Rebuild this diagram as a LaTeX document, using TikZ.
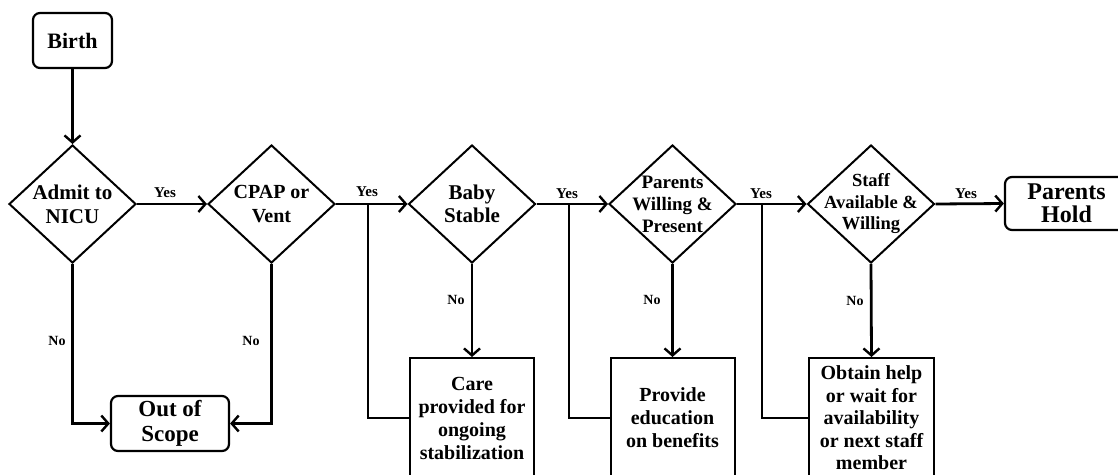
\documentclass[tikz,border=0pt]{standalone}
\usepackage{fontspec}
\setmainfont{Liberation Serif}
\usetikzlibrary{shapes.geometric,arrows.meta}
\newcommand{\fsz}[2]{\fontsize{#1}{#2}\selectfont\bfseries}
\begin{document}
\begin{tikzpicture}[x=1pt,y=-1pt,
  conn/.style={line width=2.8pt},
  arr/.style={conn,-{Straight Barb[length=7pt,width=16pt,line width=2.4pt]}},
  decision/.style={diamond,draw,line width=2pt,minimum width=127pt,minimum height=118pt,inner sep=0pt},
  dectext/.style={align=center,inner sep=0pt},
  endbox/.style={rectangle,rounded corners=7pt,draw,line width=2.2pt,align=center,inner sep=0pt},
  actbox/.style={rectangle,draw,line width=2pt,align=center,inner sep=0pt,minimum width=124pt,minimum height=120pt},
  yes/.style={inner sep=0pt,font=\fsz{15}{17}},
  no/.style={inner sep=0pt,font=\fsz{14}{16}}]
\useasboundingbox (0,0) rectangle (1118,474);
\clip (0,0) rectangle (1118,474);
\fill[white] (0,0) rectangle (1118,474);

\node[endbox,minimum width=79pt,minimum height=55pt,font=\fsz{22}{25}] (birth) at (72.5,40.5) {Birth};
\node[decision,label={[dectext,font=\fsz{21}{24}]center:{Admit to\\NICU}}] (admit) at (72.5,204) {};
\node[decision,label={[dectext,font=\fsz{20}{24}]center:{CPAP or\\Vent}}] (cpap) at (271.5,204) {};
\node[decision,label={[dectext,font=\fsz{21}{23}]center:{Baby\\Stable}}] (baby) at (472,204) {};
\node[decision,label={[dectext,font=\fsz{19}{22}]center:{Parents\\Willing \&\\Present}}] (parents) at (672.5,204) {};
\node[decision,label={[dectext,font=\fsz{18.5}{21.5}]center:{Staff\\Available \&\\Willing}}] (staff) at (871,204) {};
\node[endbox,minimum width=123pt,minimum height=53pt,font=\fsz{24}{23}] (hold) at (1066.5,203.5) {Parents\\Hold};
\node[endbox,minimum width=118pt,minimum height=55pt,font=\fsz{23}{25}] (oos) at (170,423.5) {Out of\\Scope};
\node[actbox,font=\fsz{20}{23}] (care) at (472,418) {Care\\provided for\\ongoing\\stabilization};
\node[actbox,font=\fsz{20}{23}] (educ) at (672.5,418) {Provide\\education\\on benefits};
\node[actbox,minimum width=125pt,font=\fsz{20}{22.5}] (obtain) at (871.5,418) {Obtain help\\or wait for\\availability\\or next staff\\member};

\coordinate (b1) at (368,204);
\coordinate (b2) at (569,204);
\coordinate (b3) at (762,204);

\draw[arr] (birth.south) -- (admit.north);
\draw[arr] (admit.east) -- (cpap.west);
\draw[arr] (cpap.east) -- (baby.west);
\draw[arr] (baby.east) -- (parents.west);
\draw[arr] (parents.east) -- (staff.west);
\draw[arr] (staff.east) -- (hold.west);
\draw[arr] (admit.south) |- (oos.west);
\draw[arr] (cpap.south) |- (oos.east);
\draw[arr] (baby.south) -- (care.north);
\draw[arr] (parents.south) -- (educ.north);
\draw[arr] (staff.south) -- (obtain.north);
\draw[conn] (care.west) -| (b1);
\draw[conn] (educ.west) -| (b2);
\draw[conn] (obtain.west) -| (b3);

\node[yes] (y1) at (165,193) {Yes};
\node[yes] (y2) at (367,192) {Yes};
\node[yes] (y3) at (567,194) {Yes};
\node[yes] (y4) at (761,194) {Yes};
\node[yes] (y5) at (966,194) {Yes};
\node[no] (n1) at (57,341) {No};
\node[no] (n2) at (251,341) {No};
\node[no] (n3) at (456,300) {No};
\node[no] (n4) at (652,300) {No};
\node[no] (n5) at (855,301) {No};
\end{tikzpicture}
\end{document}
